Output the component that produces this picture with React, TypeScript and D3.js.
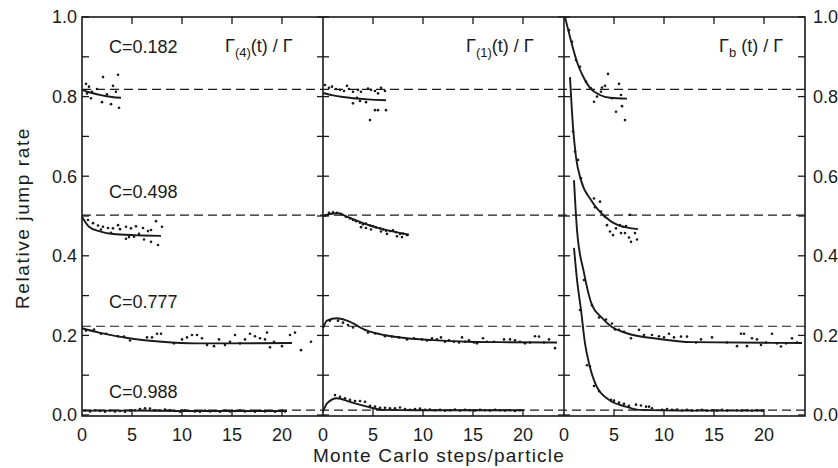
import React from 'react';
import * as d3 from 'd3';

// panel titles, concentration labels, tick values
const panelTitles = [
  { main: 'Γ', sub: '(4)', rest: '(t) / Γ' },
  { main: 'Γ', sub: '(1)', rest: '(t) / Γ' },
  { main: 'Γ', sub: 'b', rest: ' (t) / Γ' },
];
const concLabels = [
  { text: 'C=0.182', y: 0.91 },
  { text: 'C=0.498', y: 0.545 },
  { text: 'C=0.777', y: 0.27 },
  { text: 'C=0.988', y: 0.043 },
];
// equilibrium rates (dashed lines)
const equilibria = [0.818, 0.502, 0.223, 0.012];
const xTickLabels = [0, 5, 10, 15, 20];
const yTickLabels = [0, 0.2, 0.4, 0.6, 0.8, 1.0];

// ---- panel 1 : Gamma_(4)
const p1c182Curve = [[0, 0.817], [1, 0.809], [2, 0.803], [3, 0.799], [3.9, 0.797]];
const p1c182Dots = [[0.4, 0.832], [0.7, 0.825], [1.0, 0.812], [1.5, 0.819], [2.1, 0.849], [3.1, 0.827], [3.6, 0.855], [3.4, 0.812], [0.9, 0.796], [2.0, 0.786], [2.9, 0.781], [3.7, 0.772], [0.5, 0.808], [2.5, 0.806]];
const p1c498Curve = [[0, 0.498], [0.7, 0.473], [1.7, 0.462], [3.4, 0.454], [6.1, 0.451], [7.9, 0.45]];
const p1c498Dots = [[0.6, 0.49], [1.1, 0.482], [1.6, 0.476], [2.1, 0.473], [2.6, 0.47], [3.1, 0.469], [3.6, 0.477], [3.8, 0.467], [4.4, 0.473], [4.9, 0.469], [5.4, 0.474], [6.1, 0.47], [6.6, 0.462], [6.9, 0.465], [7.4, 0.487], [8.0, 0.473], [2.9, 0.458], [4.4, 0.443], [4.7, 0.447], [5.2, 0.448], [6.2, 0.441], [6.9, 0.435], [7.6, 0.427], [1.9, 0.466], [5.7, 0.455]];
const p1c777Curve = [[0, 0.218], [1.7, 0.207], [4.7, 0.193], [8.0, 0.184], [11.4, 0.18], [14.7, 0.18], [21, 0.181]];
const p1c777Dots = [[0.4, 0.212], [1.2, 0.215], [1.9, 0.204], [2.4, 0.204], [3.6, 0.198], [4.2, 0.197], [4.8, 0.187], [6.5, 0.195], [7.0, 0.195], [7.5, 0.204], [7.9, 0.204], [9.2, 0.18], [10.0, 0.19], [10.5, 0.195], [11.0, 0.201], [11.5, 0.201], [12.0, 0.193], [12.5, 0.176], [13.2, 0.173], [13.7, 0.19], [14.3, 0.176], [14.8, 0.184], [15.3, 0.201], [15.8, 0.18], [16.3, 0.19], [16.8, 0.204], [17.3, 0.198], [17.8, 0.193], [18.3, 0.19], [18.5, 0.207], [18.8, 0.17], [19.2, 0.184], [20.0, 0.173], [20.8, 0.201], [21.3, 0.207], [21.9, 0.163], [22.9, 0.184]];
const p1c988Curve = [[0, 0.011], [5, 0.011], [10, 0.01], [15, 0.01], [20.5, 0.01]];
const p1c988Dots = [[0.3, 0.011], [0.8, 0.009], [1.3, 0.012], [1.8, 0.01], [2.3, 0.008], [2.8, 0.011], [3.3, 0.009], [3.8, 0.01], [4.3, 0.008], [4.8, 0.011], [5.3, 0.012], [5.8, 0.015], [6.3, 0.017], [6.8, 0.016], [7.3, 0.012], [7.8, 0.011], [8.3, 0.014], [8.8, 0.012], [9.3, 0.01], [9.8, 0.008], [10.3, 0.012], [10.8, 0.01], [11.3, 0.009], [11.8, 0.008], [12.3, 0.011], [12.8, 0.009], [13.3, 0.01], [13.8, 0.008], [14.3, 0.011], [14.8, 0.009], [15.3, 0.01], [15.8, 0.012], [16.3, 0.009], [16.8, 0.01], [17.3, 0.008], [17.8, 0.011], [18.3, 0.009], [18.8, 0.01], [19.3, 0.008], [19.8, 0.01], [20.3, 0.009]];

// ---- panel 2 : Gamma_(1)
const p2c182Curve = [[0, 0.809], [1, 0.803], [2, 0.799], [3, 0.796], [4.5, 0.793], [6.3, 0.791]];
const p2c182Dots = [[0.2, 0.829], [0.6, 0.822], [0.9, 0.825], [1.3, 0.819], [1.7, 0.817], [2.1, 0.814], [2.4, 0.827], [2.6, 0.819], [3.0, 0.812], [3.5, 0.817], [3.8, 0.812], [4.5, 0.82], [4.8, 0.817], [5.2, 0.814], [5.5, 0.808], [5.8, 0.822], [6.2, 0.814], [3.0, 0.783], [3.4, 0.797], [3.7, 0.789], [4.3, 0.786], [5.2, 0.766], [5.5, 0.766], [6.3, 0.766], [4.7, 0.741]];
const p2c498Curve = [[0, 0.5], [0.7, 0.505], [1.5, 0.507], [2.5, 0.497], [4, 0.482], [6, 0.467], [8.6, 0.453]];
const p2c498Dots = [[0.3, 0.502], [0.6, 0.508], [1.0, 0.509], [1.4, 0.508], [1.8, 0.505], [2.3, 0.498], [2.7, 0.494], [3.0, 0.49], [3.3, 0.487], [3.7, 0.483], [4.0, 0.479], [4.3, 0.481], [4.7, 0.476], [5.0, 0.474], [5.3, 0.471], [5.7, 0.469], [6.0, 0.466], [6.3, 0.463], [6.7, 0.462], [7.0, 0.464], [7.3, 0.459], [7.7, 0.455], [8.0, 0.456], [8.4, 0.452], [3.8, 0.472], [4.3, 0.47], [4.8, 0.466], [5.8, 0.461], [6.4, 0.455], [7.4, 0.449], [7.9, 0.447]];
const p2c777Curve = [[0, 0.218], [0.4, 0.237], [1.4, 0.243], [2.4, 0.237], [4.4, 0.212], [6.1, 0.201], [8.4, 0.193], [11, 0.188], [14.4, 0.184], [17.7, 0.183], [23.4, 0.182]];
const p2c777Dots = [[0.7, 0.237], [1.5, 0.237], [2.0, 0.232], [2.5, 0.226], [3.0, 0.22], [4.5, 0.207], [5.2, 0.205], [6.2, 0.198], [6.9, 0.197], [7.6, 0.195], [8.4, 0.19], [9.1, 0.193], [9.9, 0.19], [10.4, 0.187], [10.9, 0.193], [11.4, 0.19], [11.8, 0.195], [12.2, 0.184], [12.6, 0.188], [13.1, 0.184], [13.6, 0.182], [13.9, 0.195], [14.2, 0.184], [14.6, 0.188], [15.1, 0.182], [15.4, 0.18], [16.0, 0.193], [16.4, 0.184], [17.1, 0.184], [18.1, 0.19], [18.7, 0.19], [19.2, 0.188], [19.7, 0.184], [20.2, 0.18], [20.7, 0.182], [21.2, 0.198], [21.6, 0.197], [22.1, 0.182], [22.6, 0.19], [23.2, 0.168]];
const p2c988Curve = [[0, 0.008], [0.4, 0.029], [1.4, 0.042], [2.7, 0.033], [4.4, 0.021], [6.1, 0.013], [9.4, 0.012], [20, 0.012]];
const p2c988Dots = [[1.2, 0.05], [1.7, 0.046], [2.2, 0.042], [2.7, 0.038], [3.2, 0.035], [3.7, 0.035], [4.2, 0.033], [4.7, 0.023], [5.2, 0.021], [5.7, 0.018], [6.2, 0.018], [6.7, 0.017], [7.2, 0.017], [7.7, 0.019], [8.2, 0.015], [8.7, 0.013], [9.2, 0.015], [9.7, 0.016], [10.2, 0.013], [10.7, 0.014], [11.2, 0.012], [11.7, 0.013], [12.2, 0.011], [12.7, 0.012], [13.2, 0.014], [13.7, 0.011], [14.2, 0.013], [14.7, 0.012], [15.2, 0.011], [15.7, 0.013], [16.2, 0.012], [16.7, 0.011], [17.2, 0.013], [17.7, 0.012], [18.2, 0.011], [18.7, 0.012], [19.2, 0.01], [19.7, 0.012]];

// ---- panel 3 : Gamma_b
const p3c182Curve = [[0.1, 1.0], [0.6, 0.95], [1.3, 0.887], [2.0, 0.846], [2.6, 0.822], [3.6, 0.804], [4.6, 0.797], [6.3, 0.795]];
const p3c182Dots = [[0.5, 0.967], [0.8, 0.938], [1.2, 0.892], [1.6, 0.875], [2.2, 0.837], [2.7, 0.821], [3.0, 0.787], [3.3, 0.8], [3.7, 0.812], [3.8, 0.823], [4.1, 0.827], [4.4, 0.857], [4.8, 0.796], [5.2, 0.762], [5.5, 0.832], [5.7, 0.804], [5.8, 0.776], [6.1, 0.741]];
const p3c498Curve = [[0.6, 0.849], [0.9, 0.724], [1.2, 0.648], [1.7, 0.59], [2.7, 0.54], [4.1, 0.498], [5.4, 0.477], [7.4, 0.467]];
const p3c498Dots = [[0.9, 0.712], [1.1, 0.662], [1.4, 0.641], [1.7, 0.595], [3.0, 0.544], [3.6, 0.536], [3.1, 0.522], [3.7, 0.511], [4.1, 0.498], [4.3, 0.477], [4.6, 0.461], [4.9, 0.452], [5.2, 0.469], [5.6, 0.477], [5.9, 0.473], [6.2, 0.475], [6.6, 0.503], [5.7, 0.457], [6.1, 0.457], [6.5, 0.446], [6.7, 0.435], [7.1, 0.457], [7.3, 0.441]];
const p3c777Curve = [[1.0, 0.59], [1.3, 0.465], [2.0, 0.357], [2.8, 0.276], [3.8, 0.244], [4.8, 0.221], [6.2, 0.206], [9.5, 0.191], [12.8, 0.183], [23.8, 0.181]];
const p3c777Dots = [[2.0, 0.339], [2.8, 0.276], [3.5, 0.245], [4.2, 0.24], [4.8, 0.23], [5.1, 0.215], [5.5, 0.214], [6.0, 0.209], [6.7, 0.193], [7.5, 0.214], [8.0, 0.201], [8.8, 0.201], [9.5, 0.198], [10.0, 0.195], [10.5, 0.204], [11.0, 0.195], [11.7, 0.197], [12.3, 0.197], [13.2, 0.182], [13.7, 0.19], [14.8, 0.195], [16.3, 0.182], [17.3, 0.173], [17.7, 0.204], [18.0, 0.204], [18.3, 0.173], [18.8, 0.193], [19.3, 0.19], [19.7, 0.176], [20.2, 0.182], [20.8, 0.204], [21.3, 0.18], [21.7, 0.172], [22.2, 0.18], [22.8, 0.193], [23.3, 0.182]];
const p3c988Curve = [[1.0, 0.42], [1.3, 0.34], [1.7, 0.264], [2.1, 0.18], [2.5, 0.13], [3.2, 0.075], [4.5, 0.038], [6.2, 0.021], [7.5, 0.013], [12, 0.011], [20, 0.011]];
const p3c988Dots = [[1.6, 0.264], [2.3, 0.125], [2.6, 0.122], [3.0, 0.073], [3.5, 0.06], [4.7, 0.038], [5.0, 0.036], [5.5, 0.031], [6.0, 0.028], [6.5, 0.023], [7.2, 0.026], [7.7, 0.024], [8.2, 0.021], [8.5, 0.021], [8.8, 0.017], [9.8, 0.013], [10.3, 0.015], [10.8, 0.013], [11.3, 0.014], [11.8, 0.012], [12.3, 0.013], [12.8, 0.011], [13.3, 0.012], [13.8, 0.013], [14.3, 0.011], [14.8, 0.012], [15.3, 0.011], [15.8, 0.013], [16.3, 0.011], [17.3, 0.012], [17.8, 0.011], [18.3, 0.012], [18.8, 0.011], [19.3, 0.012], [19.8, 0.011]];

const panels = [
  [[p1c182Curve, p1c182Dots], [p1c498Curve, p1c498Dots], [p1c777Curve, p1c777Dots], [p1c988Curve, p1c988Dots]],
  [[p2c182Curve, p2c182Dots], [p2c498Curve, p2c498Dots], [p2c777Curve, p2c777Dots], [p2c988Curve, p2c988Dots]],
  [[p3c182Curve, p3c182Dots], [p3c498Curve, p3c498Dots], [p3c777Curve, p3c777Dots], [p3c988Curve, p3c988Dots]],
];

const W = 838, H = 468;
const left = 82, panelW = 241, top = 17;
const font = '"Liberation Sans", Arial, sans-serif';

export default function App() {
  const y = d3.scaleLinear().domain([0, 1]).range([415, top]);
  const bottom = y(0) + 1;
  const right = left + 3 * panelW;
  const xs = [0, 1, 2].map(i => d3.scaleLinear().domain([0, 24.1]).range([left + i * panelW, left + (i + 1) * panelW]));
  const minorY = d3.range(0, 1.0001, 0.1);
  const ink = '#1a1a1a';

  return (
    <svg width={W} height={H} style={{ position: 'absolute', left: 0, top: 0, background: '#fff' }} fontFamily={font}>
      {/* dashed equilibrium levels */}
      {equilibria.map((e, i) => (
        <line key={'eq' + i} x1={left} x2={right} y1={y(e)} y2={y(e)} stroke={ink} strokeWidth={1.2} strokeDasharray="9,5" />
      ))}

      {/* frame */}
      <rect x={left} y={top} width={right - left} height={bottom - top} fill="none" stroke={ink} strokeWidth={1.6} />
      {[1, 2].map(i => (
        <line key={'div' + i} x1={left + i * panelW} x2={left + i * panelW} y1={top} y2={bottom} stroke={ink} strokeWidth={1.6} />
      ))}

      {/* y ticks */}
      {minorY.map((v, i) => (
        <g key={'yt' + i}>
          <line x1={left} x2={left + 7} y1={y(v)} y2={y(v)} stroke={ink} strokeWidth={1.3} />
          <line x1={right - 7} x2={right} y1={y(v)} y2={y(v)} stroke={ink} strokeWidth={1.3} />
          {[1, 2].map(k => (
            <line key={k} x1={left + k * panelW - 6} x2={left + k * panelW + 6} y1={y(v)} y2={y(v)} stroke={ink} strokeWidth={1.3} />
          ))}
        </g>
      ))}
      {yTickLabels.map((v, i) => (
        <g key={'yl' + i} fontSize={18} fill={ink}>
          <text x={left - 5} y={y(v)} dy="0.36em" textAnchor="end">{v.toFixed(1)}</text>
          <text x={right + 8} y={y(v)} dy="0.36em">{v.toFixed(1)}</text>
        </g>
      ))}

      {/* x ticks and labels per panel */}
      {xs.map((x, p) => (
        <g key={'xp' + p}>
          {xTickLabels.filter(t => t > 0).map(t => (
            <g key={t}>
              <line x1={x(t)} x2={x(t)} y1={bottom} y2={bottom - 7} stroke={ink} strokeWidth={1.3} />
              <line x1={x(t)} x2={x(t)} y1={top} y2={top + 7} stroke={ink} strokeWidth={1.3} />
            </g>
          ))}
          {xTickLabels.map(t => (
            <text key={'l' + t} x={x(t)} y={441} textAnchor="middle" fontSize={18} fill={ink}>{t}</text>
          ))}
        </g>
      ))}

      {/* curves and points */}
      {panels.map((series, p) => {
        const x = xs[p];
        const line = d3.line<number[]>().x(d => x(d[0])).y(d => y(d[1])).curve(d3.curveMonotoneX);
        return (
          <g key={'pan' + p}>
            {series.map(([curve, dots], s) => (
              <g key={s}>
                <path d={line(curve) || ''} fill="none" stroke={ink} strokeWidth={1.9} />
                {dots.map((d, j) => (
                  <circle key={j} cx={x(d[0])} cy={y(d[1])} r={1.3} fill={ink} />
                ))}
              </g>
            ))}
          </g>
        );
      })}

      {/* concentration labels */}
      {concLabels.map((c, i) => (
        <text key={'c' + i} x={xs[0](2.7)} y={y(c.y)} fontSize={18} fill={ink}>{c.text}</text>
      ))}

      {/* panel titles */}
      {panelTitles.map((t, i) => (
        <text key={'t' + i} x={xs[i](i === 2 ? 15.5 : 14.3)} y={52} fontSize={18} fill={ink}>
          {t.main}
          <tspan fontSize={13} dy={5}>{t.sub}</tspan>
          <tspan dy={-5}>{t.rest}</tspan>
        </text>
      ))}

      {/* axis titles */}
      <text transform={`translate(29,${218}) rotate(-90)`} textAnchor="middle" fontSize={19} fill={ink} letterSpacing={1.6}>Relative jump rate</text>
      <text x={439} y={462} textAnchor="middle" fontSize={19} fill={ink} letterSpacing={1.2}>Monte Carlo steps/particle</text>
    </svg>
  );
}
